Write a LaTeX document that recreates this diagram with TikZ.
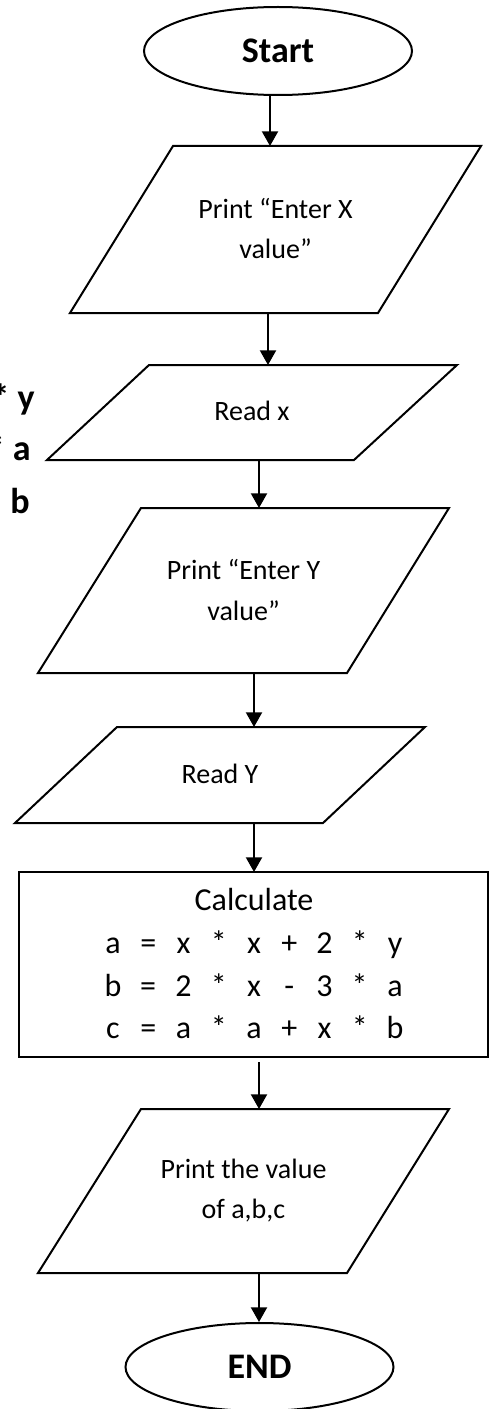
\documentclass[tikz,border=0pt]{standalone}
\usepackage{fontspec}
\setmainfont{Carlito}
\usetikzlibrary{arrows.meta,shapes.geometric}
\newcommand{\cb}[1]{\makebox[26.44pt]{#1}}
\begin{document}
\begin{tikzpicture}[x=0.75pt,y=-0.75pt,
  box/.style={draw=black,line width=1.5pt},
  term/.style={ellipse,draw=black,line width=1.5pt,minimum width=201pt,minimum height=66pt,inner sep=0pt,font=\fontsize{27}{32}\selectfont\bfseries},
  txt/.style={align=center,font=\fontsize{21}{30}\selectfont,inner sep=0pt},
  eqtxt/.style={font=\fontsize{24}{28}\selectfont,inner sep=0pt,anchor=base},
  frag/.style={font=\fontsize{27}{32}\selectfont\bfseries,inner sep=0pt,anchor=base east},
  arr/.style={line width=1.5pt,-{Triangle[width=12pt,length=11pt]}}]
\useasboundingbox (0,0) rectangle (493,1409);
\begin{scope}
\clip (0,0) rectangle (493,1409);

% left cut-off fragments
\node[frag] (f1) at (35,409) {* y};
\node[frag] (f2) at (31,460) {* a};
\node[frag] (f3) at (30,513) {b};

% start
\node[term] (start) at (278,51) {Start};

% parallelogram 1
\draw[box] (173,146) -- (481,146) -- (378,313) -- (70,313) -- cycle;
\node[txt] (p1) at (275.5,229) {Print “Enter X\\value”};
\coordinate (p1top) at (270,146);
\coordinate (p1bot) at (268,313);

% parallelogram 2
\draw[box] (149,365) -- (457,365) -- (354,460) -- (47,460) -- cycle;
\node[txt] (p2) at (252,411) {Read x};
\coordinate (p2top) at (268,365);
\coordinate (p2bot) at (259,460);

% parallelogram 3
\draw[box] (141,508) -- (449,508) -- (347,673) -- (38,673) -- cycle;
\node[txt] (p3) at (243.5,590) {Print “Enter Y\\value”};
\coordinate (p3top) at (259,508);
\coordinate (p3bot) at (254,673);

% parallelogram 4
\draw[box] (117,727) -- (425,727) -- (323,823) -- (15,823) -- cycle;
\node[txt] (p4) at (220,774) {Read Y};
\coordinate (p4top) at (254,727);
\coordinate (p4bot) at (254,823);

% calculate box
\node[box,minimum width=351.75pt,minimum height=138.75pt,inner sep=0pt] (calc) at (253.5,964.5) {};
\node[eqtxt] (ct) at (254,910) {Calculate};
\node[eqtxt] (r1) at (254,953) {\cb{a}\cb{=}\cb{x}\cb{*}\cb{x}\cb{+}\cb{2}\cb{*}\cb{y}};
\node[eqtxt] (r2) at (254,996) {\cb{b}\cb{=}\cb{2}\cb{*}\cb{x}\cb{-}\cb{3}\cb{*}\cb{a}};
\node[eqtxt] (r3) at (254,1038) {\cb{c}\cb{=}\cb{a}\cb{*}\cb{a}\cb{+}\cb{x}\cb{*}\cb{b}};
\coordinate (calctop) at (254,872);
\coordinate (calcbot) at (259,1062);

% parallelogram 5
\draw[box] (141,1109) -- (449,1109) -- (347,1273) -- (38,1273) -- cycle;
\node[txt] (p5) at (243.5,1191) {Print the value\\of a,b,c};
\coordinate (p5top) at (259,1109);
\coordinate (p5bot) at (259,1273);

% end
\node[term] (end) at (259.5,1367) {END};

% connectors
\draw[arr] (start.south -| p1top) -- (p1top);
\draw[arr] (p1bot) -- (p2top);
\draw[arr] (p2bot) -- (p3top);
\draw[arr] (p3bot) -- (p4top);
\draw[arr] (p4bot) -- (calctop);
\draw[arr] (calcbot) -- (p5top);
\draw[arr] (p5bot) -- (p5bot |- end.north);
\end{scope}
\end{tikzpicture}
\end{document}
